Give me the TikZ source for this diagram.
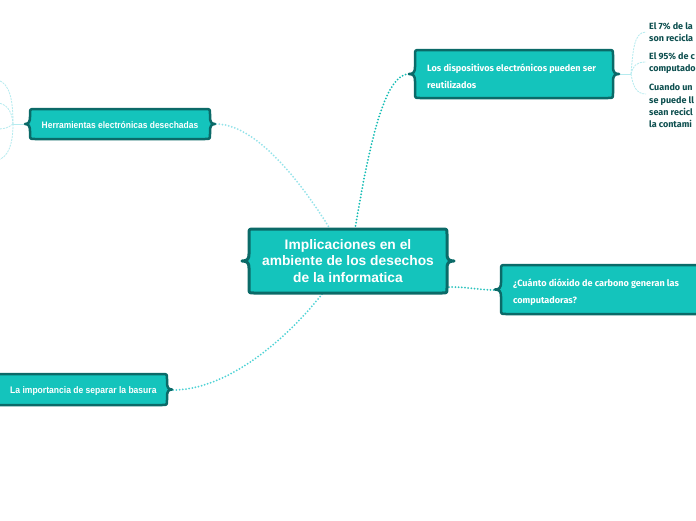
\documentclass[tikz,border=0pt]{standalone}
\usepackage{fontspec}
\setmainfont{Liberation Sans}
\newfontfamily\fira{Fira Sans}
\newfontfamily\cond[FakeStretch=0.9]{Liberation Sans}
\definecolor{boxfill}{HTML}{14C4BC}
\definecolor{boxline}{HTML}{0B6A68}
\definecolor{darktxt}{HTML}{0D4F4F}
\definecolor{linkA}{HTML}{12BCB4}
\definecolor{linkB}{HTML}{93E3EA}
\definecolor{linkC}{HTML}{4FD3D6}
\definecolor{linkD}{HTML}{2EC4BF}
\definecolor{faint}{HTML}{B5EBEF}
\tikzset{
  boxsty/.style={fill=boxfill,draw=boxline,line width=2.5pt,line join=round},
  mainsty/.style={fill=boxfill,draw=boxline,line width=3pt,line join=round},
  dotlink/.style={line width=2pt,line cap=round,dash pattern=on 0pt off 3.2pt},
  faintlink/.style={draw=faint,line width=0.8pt,dash pattern=on 2pt off 1pt},
  wtxt/.style={text=white,inner sep=0pt,align=left},
  rtxt/.style={anchor=west,inner sep=0pt,align=left,text=darktxt},
}
% #1 x1, #2 y1, #3 x2, #4 y2, #5 tip length, #6 style
\newcommand\bbox[6]{%
 \path[#6] ({#1+5},#2) -- ({#3-5},#2) .. controls (#3,#2) .. (#3,{#2+5})
  -- (#3,{(#2+#4)/2-7}) .. controls (#3,{(#2+#4)/2-2}) and ({#3+1.5},{(#2+#4)/2}) .. ({#3+#5},{(#2+#4)/2})
  .. controls ({#3+1.5},{(#2+#4)/2}) and (#3,{(#2+#4)/2+2}) .. (#3,{(#2+#4)/2+7})
  -- (#3,{#4-5}) .. controls (#3,#4) .. ({#3-5},#4) -- ({#1+5},#4) .. controls (#1,#4) .. (#1,{#4-5})
  -- (#1,{(#2+#4)/2+7}) .. controls (#1,{(#2+#4)/2+2}) and ({#1-1.5},{(#2+#4)/2}) .. ({#1-#5},{(#2+#4)/2})
  .. controls ({#1-1.5},{(#2+#4)/2}) and (#1,{(#2+#4)/2-2}) .. (#1,{(#2+#4)/2-7})
  -- (#1,{#2+5}) .. controls (#1,#2) .. ({#1+5},#2) -- cycle;}
\begin{document}
\begin{tikzpicture}[x=1pt,y=-1pt]
\useasboundingbox (0,0) rectangle (696,520);
\clip (0,0) rectangle (696,520);
\fill[white] (0,0) rectangle (696,520);

% anchor coordinates
\coordinate (mainTop) at (355,229);
\coordinate (mainTopL) at (330,229);
\coordinate (mainBot) at (322,294);
\coordinate (mainR) at (449,287);
\coordinate (herrL) at (24,124);
\coordinate (herrR) at (216,124);
\coordinate (dispL) at (409,74);
\coordinate (dispR) at (620,74);
\coordinate (cuanL) at (495,290);
\coordinate (impR) at (173,390);
\coordinate (herrStub) at (13,124);
\coordinate (dispStub) at (631,74);

% connectors
\draw[dotlink,draw=linkA] (mainTop) .. controls (370,140) and (385,74) .. (dispL);
\draw[dotlink,draw=linkB] (mainTopL) .. controls (300,180) and (255,124) .. (herrR);
\draw[dotlink,draw=linkC] (mainBot) .. controls (290,335) and (230,390) .. (impR);
\draw[dotlink,draw=linkD] (mainR) .. controls (470,287) and (478,290) .. (cuanL);

% faint child links (right)
\draw[faint,line width=1pt] (dispR) -- (dispStub);
\coordinate (c1) at (646,32);
\coordinate (c2) at (646,62);
\coordinate (c3) at (646,94);
\draw[faintlink] (dispStub) .. controls (633,50) and (634,32) .. (c1);
\draw[faintlink] (dispStub) .. controls (633,66) and (636,62) .. (c2);
\draw[faintlink] (dispStub) .. controls (633,86) and (636,94) .. (c3);

% faint child links (left)
\draw[faint,line width=1pt] (herrL) -- (herrStub);
\coordinate (l1) at (-2,80);
\coordinate (l2) at (-2,103);
\coordinate (l3) at (-2,129);
\coordinate (l4) at (-2,160);
\draw[faintlink] (herrStub) .. controls (13,100) and (10,84) .. (l1);
\draw[faintlink] (herrStub) .. controls (12,110) and (6,104) .. (l2);
\draw[faintlink] (herrStub) .. controls (8,128) and (4,129) .. (l3);
\draw[faintlink] (herrStub) .. controls (13,145) and (8,157) .. (l4);

% boxes
\bbox{249}{229}{447}{293}{7}{mainsty}
\bbox{30}{109}{210}{139}{5}{boxsty}
\bbox{415}{50}{613}{98}{6}{boxsty}
\bbox{501}{265}{720}{314}{6}{boxsty}
\bbox{-20}{374}{167}{405}{5}{boxsty}

% texts
\node[wtxt,align=center,font=\bfseries\fontsize{13.8}{16.5}\selectfont] (main) at (348,261)
  {Implicaciones en el\\ambiente de los desechos\\de la informatica};
\node[wtxt,font=\cond\bfseries\fontsize{9.4}{10}\selectfont] (herr) at (120,125)
  {Herramientas electrónicas desechadas};
\node[wtxt,anchor=west,font=\fira\bfseries\fontsize{9.1}{17}\selectfont] (disp) at (427,76.5)
  {Los dispositivos electrónicos pueden ser\\reutilizados};
\node[wtxt,anchor=west,font=\fira\bfseries\fontsize{9.1}{17.5}\selectfont] (cuan) at (513,292)
  {¿Cuánto dióxido de carbono generan las\\computadoras?};
\node[wtxt,anchor=west,font=\cond\bfseries\fontsize{9.5}{10}\selectfont] (imp) at (10,391)
  {La importancia de separar la basura};

\node[rtxt,font=\fira\bfseries\fontsize{9}{11.5}\selectfont] (t1) at (649,32)
  {El 7\% de la\\son recicla};
\node[rtxt,font=\fira\bfseries\fontsize{9}{12}\selectfont] (t2) at (649,63)
  {El 95\% de c\\computado};
\node[rtxt,font=\fira\bfseries\fontsize{9}{12.3}\selectfont] (t3) at (649,106)
  {Cuando un\\se puede ll\\sean recicl\\la contami};
\end{tikzpicture}
\end{document}
